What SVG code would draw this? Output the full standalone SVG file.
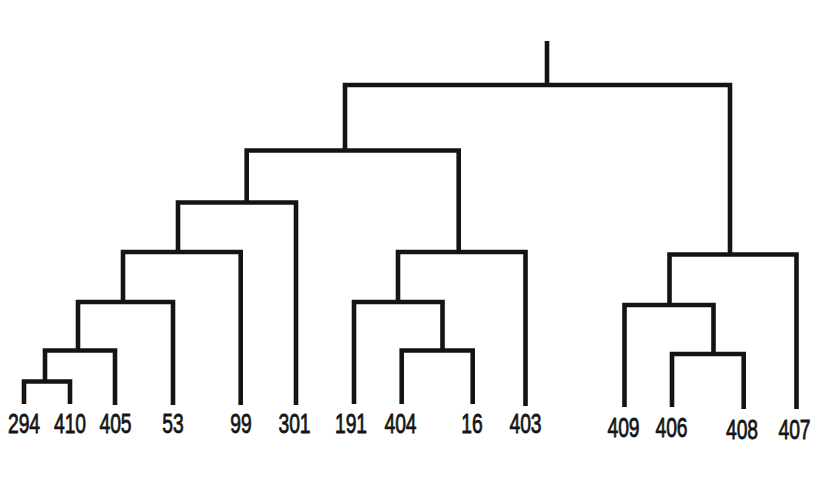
<svg xmlns="http://www.w3.org/2000/svg" width="824" height="485" viewBox="0 0 824 485">
<style>
.br{fill:none;stroke:#141414;stroke-width:4.6;stroke-linejoin:miter;stroke-linecap:butt}
.lb{font-family:"Liberation Sans",Arial,sans-serif;font-size:28px;fill:#141414;stroke:#141414;stroke-width:0.8;text-anchor:middle}
</style>
<rect width="824" height="485" fill="#fff"/>
<g id="connectors" class="br">
<path d="M547 41V85"/>
<path d="M345 150.5V85H730V254.5"/>
<path d="M246.7 202.5V150.5H458.7V252"/>
<path d="M178 252V202.5H296V405"/>
<path d="M123 302V252H240.7V405"/>
<path d="M78 350.5V302H173V405"/>
<path d="M45 381.5V350.5H115V405"/>
<path d="M24 404V381.5H70V404"/>
<path d="M398 302V252H525.5V406"/>
<path d="M354 404V302H442.5V350.5"/>
<path d="M401.7 404V350.5H472.7V404"/>
<path d="M669.5 305V254.5H796.5V409"/>
<path d="M624.5 407V305H713.5V354"/>
<path d="M672 407V354H743.7V409"/>
</g>
<g id="leaf-294"><text class="lb" transform="translate(24,433) scale(0.69,1)">294</text></g>
<g id="leaf-410"><text class="lb" transform="translate(70,433) scale(0.69,1)">410</text></g>
<g id="leaf-405"><text class="lb" transform="translate(115.5,433) scale(0.69,1)">405</text></g>
<g id="leaf-53"><text class="lb" transform="translate(173,433) scale(0.69,1)">53</text></g>
<g id="leaf-99"><text class="lb" transform="translate(241,433) scale(0.69,1)">99</text></g>
<g id="leaf-301"><text class="lb" transform="translate(294.5,433) scale(0.69,1)">301</text></g>
<g id="leaf-191"><text class="lb" transform="translate(351,433) scale(0.69,1)">191</text></g>
<g id="leaf-404"><text class="lb" transform="translate(400.5,433) scale(0.69,1)">404</text></g>
<g id="leaf-16"><text class="lb" transform="translate(472,433) scale(0.69,1)">16</text></g>
<g id="leaf-403"><text class="lb" transform="translate(525.5,433) scale(0.69,1)">403</text></g>
<g id="leaf-409"><text class="lb" transform="translate(623.5,437) scale(0.69,1)">409</text></g>
<g id="leaf-406"><text class="lb" transform="translate(671.5,437) scale(0.69,1)">406</text></g>
<g id="leaf-408"><text class="lb" transform="translate(742,439) scale(0.69,1)">408</text></g>
<g id="leaf-407"><text class="lb" transform="translate(794.5,439) scale(0.69,1)">407</text></g>
</svg>
